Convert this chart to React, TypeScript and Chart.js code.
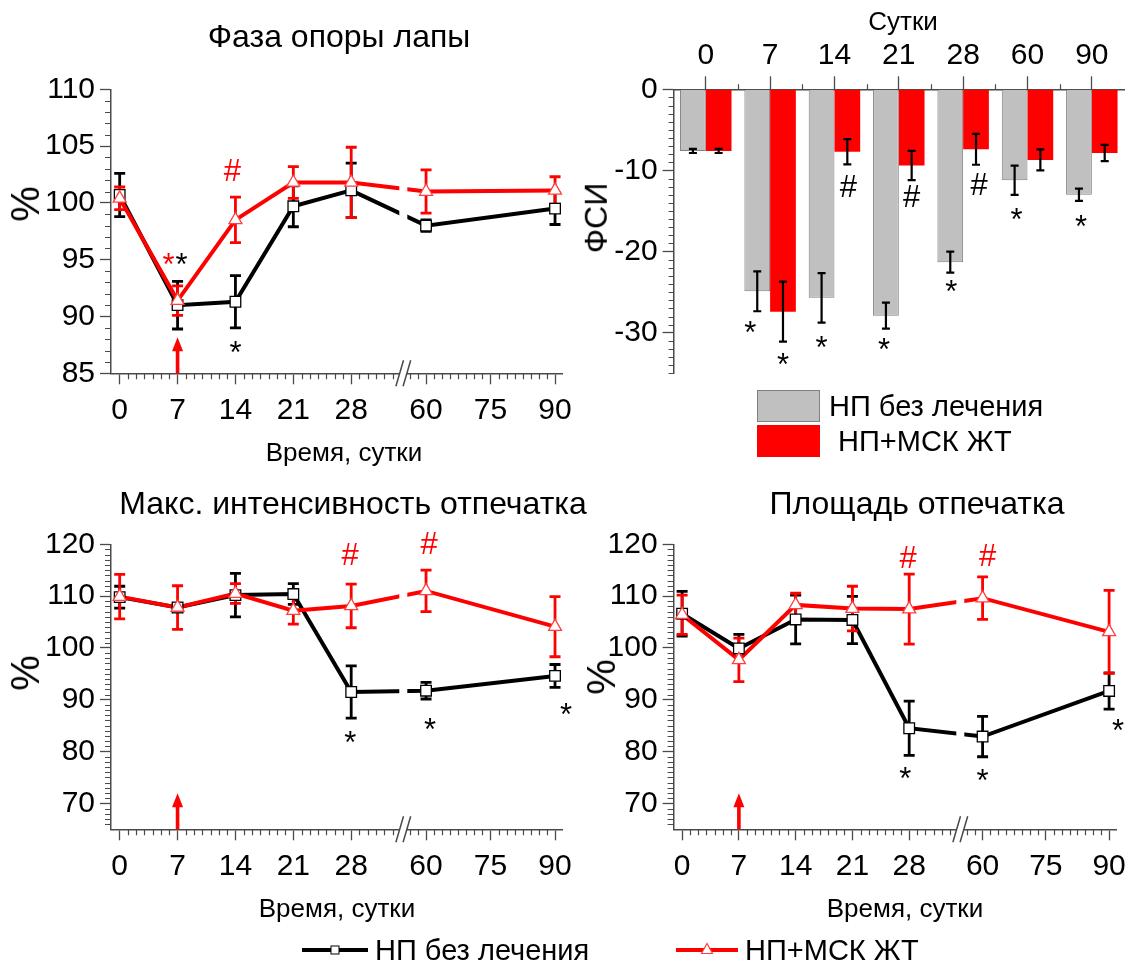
import React, { useEffect, useRef } from 'react';
import { Chart, registerables } from 'chart.js';

Chart.register(...registerables);

const FONT = '"Liberation Sans", Arial, Helvetica, sans-serif';
const AXIS = '#4a4a4a';
const RED = '#ff0000';

// ---------- data ----------
const DAYS = [0, 7, 14, 21, 28, 60, 90];
const X_TICK_DAYS = [0, 7, 14, 21, 28, 60, 75, 90];
const BAR_DAYS = ['0', '7', '14', '21', '28', '60', '90'];

// Фаза опоры лапы, %
const stanceNP = [100.7, 91.0, 91.3, 99.7, 101.1, 98.0, 99.5];
const stanceNPErr = [1.9, 2.1, 2.3, 1.8, 2.4, 0.5, 1.4];
const stanceMSC = [100.4, 91.4, 98.5, 101.8, 101.8, 101.0, 101.1];
const stanceMSCErr = [1.0, 1.3, 2.0, 1.4, 3.1, 1.9, 1.2];
const stanceYTicks = [85, 90, 95, 100, 105, 110];

// ФСИ
const fsiNP = [-7.6, -24.9, -25.7, -27.9, -21.3, -11.2, -13.0];
const fsiNPErr = [0.25, 2.45, 3.05, 1.6, 1.3, 1.8, 0.75];
const fsiMSC = [-7.6, -27.4, -7.7, -9.4, -7.4, -8.7, -7.85];
const fsiMSCErr = [0.25, 3.7, 1.55, 1.8, 1.9, 1.3, 1.0];
const fsiYTicks = [0, -10, -20, -30];

// Макс. интенсивность отпечатка, %
const intensNP = [109.8, 107.8, 110.2, 110.4, 91.5, 91.75, 94.6];
const intensNPErr = [2.1, 0.8, 4.2, 2.0, 5.05, 1.6, 2.2];
const intensMSC = [109.9, 107.8, 110.5, 107.2, 108.1, 111.0, 104.1];
const intensMSCErr = [4.3, 4.2, 1.9, 2.6, 4.2, 4.0, 5.8];

// Площадь отпечатка, %
const areaNP = [106.6, 99.9, 105.5, 105.4, 84.5, 82.9, 91.7];
const areaNPErr = [4.3, 2.7, 4.7, 4.55, 5.25, 3.9, 3.5];
const areaMSC = [106.4, 97.7, 108.3, 107.6, 107.5, 109.6, 103.1];
const areaMSCErr = [3.8, 4.2, 2.25, 4.3, 6.75, 4.1, 8.0];
const printYTicks = [70, 80, 90, 100, 110, 120];

// ---------- broken time axis ----------
const vx = (d: number) => (d <= 33 ? d : 37.05 + (d - 60) * 0.52);
const X_MIN = -1.05;
const X_MAX = 53.6;
const BREAK_X = 34.3;
const X_MINOR: number[] = [];
for (let d = 1; d <= 33; d++) if (d % 7 !== 0) X_MINOR.push(d);
for (let k = -2; k <= 16; k++) if (k % 8 !== 0) X_MINOR.push(37.05 + (k * 15 / 8) * 0.52);

type Mark = { day: number; y: number; t: string; c: string; dx: number };

const stanceMarks: Mark[] = [
  { day: 7, y: 95.1, t: '*', c: RED, dx: -9 },
  { day: 7, y: 95.1, t: '*', c: '#000', dx: 4 },
  { day: 14, y: 102.9, t: '#', c: RED, dx: -3 },
  { day: 14, y: 87.35, t: '*', c: '#000', dx: 0 },
];
const intensMarks: Mark[] = [
  { day: 28, y: 118.1, t: '#', c: RED, dx: -1 },
  { day: 60, y: 120.2, t: '#', c: RED, dx: 3 },
  { day: 28, y: 82.9, t: '*', c: '#000', dx: -1 },
  { day: 60, y: 85.4, t: '*', c: '#000', dx: 4 },
  { day: 90, y: 88.3, t: '*', c: '#000', dx: 11 },
];
const areaMarks: Mark[] = [
  { day: 28, y: 117.5, t: '#', c: RED, dx: -1 },
  { day: 60, y: 117.9, t: '#', c: RED, dx: 5 },
  { day: 28, y: 75.8, t: '*', c: '#000', dx: -4 },
  { day: 60, y: 75.5, t: '*', c: '#000', dx: 0 },
  { day: 90, y: 85.1, t: '*', c: '#000', dx: 9 },
];

type BarMark = { cat: number; ds: number; y: number; t: string; dx: number };
const fsiMarks: BarMark[] = [
  { cat: 1, ds: 0, y: -29.3, t: '*', dx: -7 },
  { cat: 1, ds: 1, y: -33.2, t: '*', dx: 0 },
  { cat: 2, ds: 0, y: -31.2, t: '*', dx: 0 },
  { cat: 2, ds: 1, y: -11.9, t: '#', dx: 1 },
  { cat: 3, ds: 0, y: -31.4, t: '*', dx: -2 },
  { cat: 3, ds: 1, y: -13.2, t: '#', dx: 0 },
  { cat: 4, ds: 0, y: -24.2, t: '*', dx: 1 },
  { cat: 4, ds: 1, y: -11.7, t: '#', dx: 3 },
  { cat: 5, ds: 0, y: -15.4, t: '*', dx: 2 },
  { cat: 6, ds: 0, y: -16.2, t: '*', dx: 2 },
];

const MARK_SIZE = 31;
const tickFont = { family: FONT, size: 30 };

// ---------- helpers ----------
function centeredText(ctx: CanvasRenderingContext2D, text: string, x: number, cy: number, size: number, color: string) {
  ctx.font = `${size}px ${FONT}`;
  ctx.fillStyle = color;
  ctx.textAlign = 'center';
  ctx.textBaseline = 'alphabetic';
  const m = ctx.measureText(text);
  const base = cy + (m.actualBoundingBoxAscent - m.actualBoundingBoxDescent) / 2;
  ctx.fillText(text, x, base);
}

function errBar(ctx: CanvasRenderingContext2D, x: number, yTop: number, yBot: number, color: string, lw: number, cap: number) {
  ctx.strokeStyle = color;
  ctx.lineWidth = lw;
  ctx.beginPath();
  ctx.moveTo(x, yTop);
  ctx.lineTo(x, yBot);
  ctx.moveTo(x - cap, yTop);
  ctx.lineTo(x + cap, yTop);
  ctx.moveTo(x - cap, yBot);
  ctx.lineTo(x + cap, yBot);
  ctx.stroke();
}

interface LineSpec {
  np: number[]; npErr: number[]; msc: number[]; mscErr: number[];
  yMin: number; yMax: number; yTicks: number[];
  marks: Mark[];
  pad: { left: number; top: number; right: number; bottom: number };
  yAxisW: number; xAxisH: number;
}

function buildLineConfig(s: LineSpec): any {
  const pts = (vals: number[]) => DAYS.map((d, i) => ({ x: vx(d), y: vals[i] }));
  const decor = {
    id: 'decor',
    beforeDatasetDraw(chart: any, args: any) {
      if (args.index !== 2) return;
      const { ctx, chartArea: ca } = chart;
      const xs = chart.scales.x, ys = chart.scales.y;
      const bx = xs.getPixelForValue(BREAK_X);
      ctx.save();
      ctx.fillStyle = '#fff';
      ctx.fillRect(bx - 4, ca.top, 8, ca.bottom - ca.top - 2);
      const series: [number[], number[], string][] = [[s.np, s.npErr, '#000'], [s.msc, s.mscErr, RED]];
      for (const [vals, errs, col] of series) {
        DAYS.forEach((d, i) => {
          const x = xs.getPixelForValue(vx(d));
          errBar(ctx, x, ys.getPixelForValue(vals[i] + errs[i]), ys.getPixelForValue(vals[i] - errs[i]), col, 2.8, 5.5);
        });
      }
      ctx.restore();
    },
    afterDraw(chart: any) {
      const { ctx, chartArea: ca } = chart;
      const xs = chart.scales.x, ys = chart.scales.y;
      ctx.save();
      ctx.strokeStyle = AXIS;
      ctx.lineWidth = 1.2;
      ctx.beginPath();
      for (const v of X_MINOR) {
        if (v <= X_MIN || v >= X_MAX) continue;
        const px = Math.round(xs.getPixelForValue(v)) + 0.5;
        ctx.moveTo(px, ca.bottom);
        ctx.lineTo(px, ca.bottom + 6);
      }
      for (let v = s.yMin + 1; v < s.yMax; v++) {
        if (s.yTicks.includes(v)) continue;
        const py = Math.round(ys.getPixelForValue(v)) + 0.5;
        ctx.moveTo(ca.left, py);
        ctx.lineTo(ca.left - 6, py);
      }
      ctx.stroke();
      // axis break
      const bx = xs.getPixelForValue(BREAK_X);
      ctx.fillStyle = '#fff';
      ctx.fillRect(bx - 3.3, ca.bottom - 3, 6.6, 6);
      ctx.lineWidth = 1.5;
      ctx.beginPath();
      ctx.moveTo(bx - 7.4, ca.bottom + 13);
      ctx.lineTo(bx + 0.2, ca.bottom - 13);
      ctx.moveTo(bx - 0.2, ca.bottom + 13);
      ctx.lineTo(bx + 7.4, ca.bottom - 13);
      ctx.stroke();
      // red arrow at day 7
      const ax = xs.getPixelForValue(vx(7));
      const base = ca.bottom;
      const tip = base - 36;
      ctx.fillStyle = RED;
      ctx.fillRect(ax - 1.8, tip + 12, 3.6, base - tip - 12);
      ctx.beginPath();
      ctx.moveTo(ax, tip);
      ctx.lineTo(ax - 5.5, tip + 14);
      ctx.lineTo(ax + 5.5, tip + 14);
      ctx.closePath();
      ctx.fill();
      // significance marks
      for (const m of s.marks) {
        centeredText(ctx, m.t, xs.getPixelForValue(vx(m.day)) + m.dx, ys.getPixelForValue(m.y), MARK_SIZE, m.c);
      }
      ctx.restore();
    },
  };
  const tickLabel = (v: number) => {
    const d = X_TICK_DAYS.find((t) => Math.abs(vx(t) - v) < 0.01);
    return d === undefined ? '' : String(d);
  };
  return {
    type: 'line',
    data: {
      datasets: [
        { data: pts(s.np), borderColor: '#000', borderWidth: 4, pointRadius: 0, order: 4, tension: 0 },
        { data: pts(s.msc), borderColor: RED, borderWidth: 4, pointRadius: 0, order: 3, tension: 0 },
        { data: pts(s.np), showLine: false, pointStyle: 'rect', pointRadius: 7.5, pointBackgroundColor: '#fff', pointBorderColor: '#000', pointBorderWidth: 1.3, order: 2 },
        { data: pts(s.msc), showLine: false, pointStyle: 'triangle', pointRadius: 7.5, pointBackgroundColor: '#fff', pointBorderColor: '#ff4040', pointBorderWidth: 1.3, order: 1 },
      ],
    },
    options: {
      animation: false,
      responsive: false,
      events: [],
      layout: { padding: s.pad, autoPadding: false },
      plugins: { legend: { display: false }, tooltip: { enabled: false }, title: { display: false } },
      scales: {
        x: {
          type: 'linear', min: X_MIN, max: X_MAX,
          afterBuildTicks: (sc: any) => { sc.ticks = X_TICK_DAYS.map((d) => ({ value: vx(d) })); },
          afterFit: (sc: any) => { sc.height = s.xAxisH; },
          ticks: { autoSkip: false, maxRotation: 0, minRotation: 0, padding: 8, color: '#000', font: tickFont, callback: (v: number) => tickLabel(v) },
          grid: { drawOnChartArea: false, drawTicks: true, tickLength: 11, tickWidth: 1.3, color: AXIS },
          border: { display: true, color: AXIS, width: 1.5 },
        },
        y: {
          type: 'linear', min: s.yMin, max: s.yMax,
          afterBuildTicks: (sc: any) => { sc.ticks = s.yTicks.map((v) => ({ value: v })); },
          afterFit: (sc: any) => { sc.width = s.yAxisW; },
          ticks: { padding: 5, color: '#000', font: tickFont, callback: (v: number) => String(v) },
          grid: { drawOnChartArea: false, drawTicks: true, tickLength: 11, tickWidth: 1.3, color: AXIS },
          border: { display: true, color: AXIS, width: 1.5 },
        },
      },
    },
    plugins: [decor],
  };
}

function buildBarConfig(): any {
  const decor = {
    id: 'barDecor',
    afterDatasetsDraw(chart: any) {
      const { ctx } = chart;
      const ys = chart.scales.y;
      const series: [number[], number[]][] = [[fsiNP, fsiNPErr], [fsiMSC, fsiMSCErr]];
      ctx.save();
      series.forEach(([vals, errs], di) => {
        const meta = chart.getDatasetMeta(di);
        vals.forEach((v, i) => {
          const x = meta.data[i].x;
          errBar(ctx, x, ys.getPixelForValue(v + errs[i]), ys.getPixelForValue(v - errs[i]), '#000', 2.2, 4);
        });
      });
      ctx.restore();
    },
    afterDraw(chart: any) {
      const { ctx, chartArea: ca } = chart;
      const xs = chart.scales.x, ys = chart.scales.y;
      ctx.save();
      ctx.strokeStyle = AXIS;
      ctx.lineWidth = 1.2;
      ctx.beginPath();
      for (let i = 0; i < BAR_DAYS.length - 1; i++) {
        const px = Math.round((xs.getPixelForValue(i) + xs.getPixelForValue(i + 1)) / 2) + 0.5;
        ctx.moveTo(px, ca.top);
        ctx.lineTo(px, ca.top - 5);
      }
      for (let v = -35; v < 0; v++) {
        if (v % 10 === 0) continue;
        const py = Math.round(ys.getPixelForValue(v)) + 0.5;
        ctx.moveTo(ca.left, py);
        ctx.lineTo(ca.left - 5, py);
      }
      ctx.stroke();
      for (const m of fsiMarks) {
        const el = chart.getDatasetMeta(m.ds).data[m.cat];
        centeredText(ctx, m.t, el.x + m.dx, ys.getPixelForValue(m.y), MARK_SIZE, '#000');
      }
      ctx.restore();
    },
  };
  return {
    type: 'bar',
    data: {
      labels: BAR_DAYS,
      datasets: [
        { data: fsiNP, backgroundColor: '#c0c0c0', borderColor: '#808080', borderWidth: 1, categoryPercentage: 0.8, barPercentage: 1.0 },
        { data: fsiMSC, backgroundColor: RED, borderColor: RED, borderWidth: 0, categoryPercentage: 0.8, barPercentage: 1.0 },
      ],
    },
    options: {
      animation: false,
      responsive: false,
      events: [],
      layout: { padding: { left: 0, top: 0, right: 10, bottom: 96.7 }, autoPadding: false },
      plugins: { legend: { display: false }, tooltip: { enabled: false }, title: { display: false } },
      scales: {
        x: {
          position: 'top',
          offset: true,
          afterFit: (sc: any) => { sc.height = 89.3; },
          ticks: { autoSkip: false, maxRotation: 0, minRotation: 0, padding: 3, color: '#000', font: tickFont },
          grid: { offset: false, drawOnChartArea: false, drawTicks: true, tickLength: 13, tickWidth: 1.3, color: AXIS },
          border: { display: true, color: AXIS, width: 1.5 },
        },
        y: {
          type: 'linear', min: -35, max: 0,
          afterBuildTicks: (sc: any) => { sc.ticks = fsiYTicks.map((v) => ({ value: v })); },
          afterFit: (sc: any) => { sc.width = 93.6; },
          ticks: { padding: 5, color: '#000', font: tickFont, callback: (v: number) => String(v) },
          grid: { drawOnChartArea: false, drawTicks: true, tickLength: 11, tickWidth: 1.3, color: AXIS },
          border: { display: true, color: AXIS, width: 1.5 },
        },
      },
    },
    plugins: [decor],
  };
}

function ChartCanvas({ config, left, top, width, height }: { config: () => any; left: number; top: number; width: number; height: number }) {
  const ref = useRef<HTMLCanvasElement>(null);
  useEffect(() => {
    const chart = new Chart(ref.current as HTMLCanvasElement, config());
    return () => chart.destroy();
  }, []);
  return (
    <canvas ref={ref} width={width} height={height}
      style={{ position: 'absolute', left, top, width, height }} />
  );
}

function Label({ text, cx, cy, size, rotate, align }: { text: string; cx: number; cy: number; size: number; rotate?: boolean; align?: 'left' | 'center' }) {
  const base: React.CSSProperties = {
    position: 'absolute', whiteSpace: 'nowrap', fontFamily: FONT, fontSize: size, lineHeight: 1.2, color: '#000',
  };
  if (rotate) {
    return <div style={{ ...base, left: cx, top: cy, transform: 'translate(-50%, -50%) rotate(-90deg)' }}>{text}</div>;
  }
  if (align === 'left') {
    return <div style={{ ...base, left: cx, top: cy - 0.59 * size }}>{text}</div>;
  }
  return <div style={{ ...base, left: cx, top: cy - 0.59 * size, transform: 'translateX(-50%)' }}>{text}</div>;
}

export default function App() {
  const stanceSpec: LineSpec = {
    np: stanceNP, npErr: stanceNPErr, msc: stanceMSC, mscErr: stanceMSCErr,
    yMin: 85, yMax: 110, yTicks: stanceYTicks, marks: stanceMarks,
    pad: { left: 0, top: 89.3, right: 16, bottom: 0 }, yAxisW: 111, xAxisH: 470 - 373.3,
  };
  const intensSpec: LineSpec = {
    np: intensNP, npErr: intensNPErr, msc: intensMSC, mscErr: intensMSCErr,
    yMin: 65, yMax: 120, yTicks: printYTicks, marks: intensMarks,
    pad: { left: 0, top: 74.3, right: 17, bottom: 0 }, yAxisW: 111, xAxisH: 455 - 359.3,
  };
  const areaSpec: LineSpec = {
    np: areaNP, npErr: areaNPErr, msc: areaMSC, mscErr: areaMSCErr,
    yMin: 65, yMax: 120, yTicks: printYTicks, marks: areaMarks,
    pad: { left: 0, top: 74.3, right: 12, bottom: 0 }, yAxisW: 93.6, xAxisH: 455 - 359.3,
  };
  return (
    <div style={{ position: 'absolute', left: 0, top: 0, width: 1134, height: 971, overflow: 'hidden', background: '#fff' }}>
      <ChartCanvas config={() => buildLineConfig(stanceSpec)} left={0} top={0} width={580} height={470} />
      <ChartCanvas config={() => buildBarConfig()} left={580} top={0} width={554} height={470} />
      <ChartCanvas config={() => buildLineConfig(intensSpec)} left={0} top={470} width={580} height={455} />
      <ChartCanvas config={() => buildLineConfig(areaSpec)} left={580} top={470} width={554} height={455} />

      <Label text="Фаза опоры лапы" cx={339} cy={36} size={32} />
      <Label text="Макс. интенсивность отпечатка" cx={353} cy={503} size={32} />
      <Label text="Площадь отпечатка" cx={917} cy={503} size={32} />
      <Label text="Сутки" cx={903} cy={21} size={26} />

      <Label text="Время, сутки" cx={344} cy={452} size={26} />
      <Label text="Время, сутки" cx={337} cy={908} size={26} />
      <Label text="Время, сутки" cx={905} cy={908} size={26} />

      <Label text="%" cx={25} cy={204} size={40} rotate />
      <Label text="%" cx={25} cy={673} size={40} rotate />
      <Label text="%" cx={601} cy={677} size={40} rotate />
      <Label text="ФСИ" cx={596} cy={218} size={32} rotate />

      <div style={{ position: 'absolute', left: 757, top: 390, width: 63, height: 32, boxSizing: 'border-box', background: '#c0c0c0', border: '1px solid #808080' }} />
      <div style={{ position: 'absolute', left: 757, top: 425, width: 63, height: 32, background: RED }} />
      <Label text="НП без лечения" cx={829} cy={406} size={29} align="left" />
      <Label text="НП+МСК ЖТ" cx={838} cy={441} size={29} align="left" />

      <svg width={1134} height={971} style={{ position: 'absolute', left: 0, top: 0, pointerEvents: 'none' }}>
        <line x1={302} y1={950} x2={368} y2={950} stroke="#000" strokeWidth={4} />
        <rect x={331} y={946} width={8} height={8} fill="#fff" stroke="#000" strokeWidth={1} />
        <line x1={676} y1={950} x2={738} y2={950} stroke={RED} strokeWidth={4} />
        <polygon points="707,943.5 701.5,953.5 712.5,953.5" fill="#fff" stroke="#ff4040" strokeWidth={1.2} />
      </svg>
      <Label text="НП без лечения" cx={375} cy={950} size={29} align="left" />
      <Label text="НП+МСК ЖТ" cx={745} cy={950} size={29} align="left" />
    </div>
  );
}
